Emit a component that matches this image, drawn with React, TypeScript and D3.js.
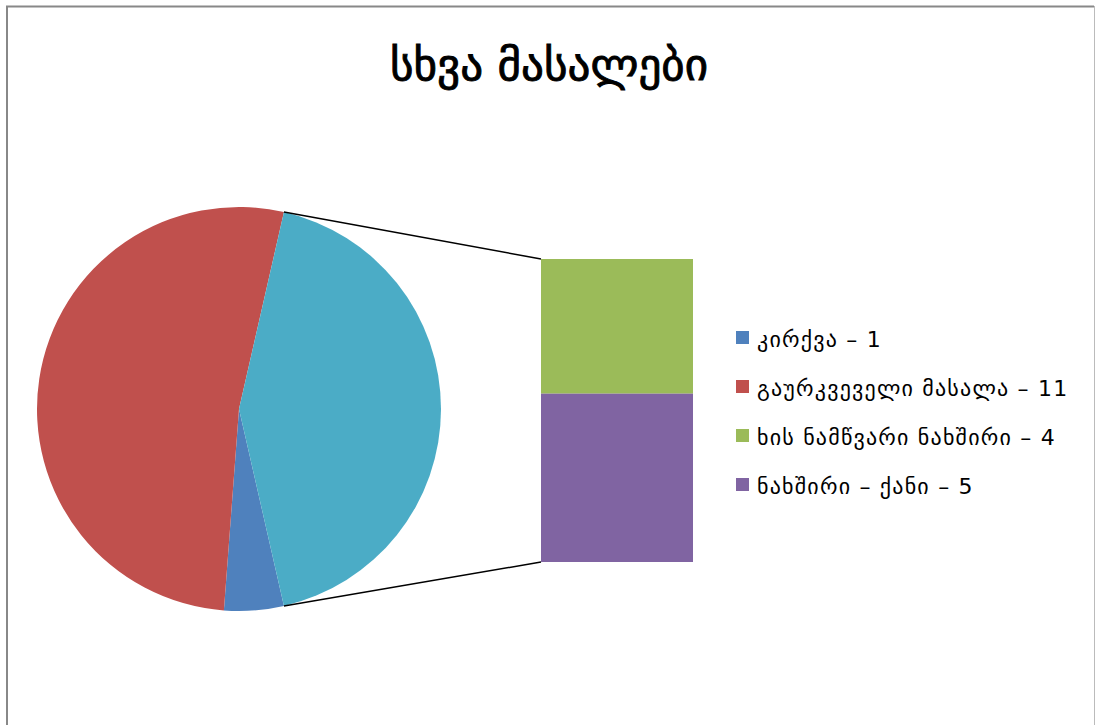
import React from "react";
import * as d3 from "d3";

const title = "სხვა მასალები";
const pieLabels = ["გაურკვეველი მასალა", "კირქვა", "სხვა"];
const pieValues = [11, 1, 9];
const pieColors = ["#C0504D", "#4F81BD", "#4BACC6"];

const barLabels = ["ხის ნამწვარი ნახშირი", "ნახშირი – ქანი"];
const barValues = [4, 5];
const barColors = ["#9BBB59", "#8064A2"];

const legendLabels = ["კირქვა – 1", "გაურკვეველი მასალა – 11", "ხის ნამწვარი ნახშირი – 4", "ნახშირი – ქანი – 5"];
const legendColors = ["#4F81BD", "#C0504D", "#9BBB59", "#8064A2"];

const W = 1095;
const H = 725;

export default function App() {
    const cx = 239;
    const cy = 409;
    const r = 202;

    // "other" slice centred on the right side
    const otherAngle = (pieValues[2] / d3.sum(pieValues)) * 2 * Math.PI;
    const start = Math.PI / 2 - otherAngle / 2;
    const pie = d3.pie<number>()
        .sort(null)
        .value(d => d)
        .startAngle(start + otherAngle)
        .endAngle(start + otherAngle + 2 * Math.PI);
    // blue -> red -> teal, clockwise from the end of the teal slice
    const order = [1, 0, 2];
    const arcsData = pie(order.map(i => pieValues[i]));
    const arc = d3.arc<d3.PieArcDatum<number>>().innerRadius(0).outerRadius(r);

    const bx = 541;
    const bw = 152;
    const yScale = d3.scaleLinear()
        .domain([0, d3.sum(barValues)])
        .range([259, 562]);
    let acc = 0;
    const bars = barValues.map((v, i) => {
        const y0 = yScale(acc);
        acc += v;
        return { y0, y1: yScale(acc), color: barColors[i], label: barLabels[i] };
    });

    const p1 = [cx + r * Math.sin(start), cy - r * Math.cos(start)];
    const p2 = [cx + r * Math.sin(start + otherAngle), cy - r * Math.cos(start + otherAngle)];

    return (
        <div style={{ position: "absolute", left: 0, top: 0 }}>
            <svg width={W} height={H} style={{ display: "block", fontFamily: "DejaVu Sans" }}>
                <rect x={0} y={0} width={W} height={H} fill="#fff" />
                <line x1={7} y1={6} x2={7} y2={H} stroke="#888" strokeWidth={2} />
                <line x1={6} y1={6.5} x2={1094} y2={6.5} stroke="#888" strokeWidth={2} />
                <line x1={1094.5} y1={6} x2={1094.5} y2={H} stroke="#bbb" strokeWidth={1} />
                <text x={549} y={80} textAnchor="middle" fontSize={43} fill="#000" stroke="#000" strokeWidth={0.9}
                    textLength={318} lengthAdjust="spacingAndGlyphs">{title}</text>
                <g transform={`translate(${cx},${cy})`}>
                    {arcsData.map((d, i) => (
                        <path key={i} d={arc(d) as string} fill={pieColors[order[i]]} />
                    ))}
                </g>
                {bars.map((b, i) => (
                    <rect key={i} x={bx} y={b.y0} width={bw} height={b.y1 - b.y0} fill={b.color} />
                ))}
                <line x1={p1[0]} y1={p1[1]} x2={bx} y2={yScale(0)} stroke="#000" strokeWidth={1.5} />
                <line x1={p2[0]} y1={p2[1]} x2={bx} y2={yScale(d3.sum(barValues))} stroke="#000" strokeWidth={1.5} />
                {legendLabels.map((l, i) => (
                    <g key={i} transform={`translate(736,${339 + i * 49})`}>
                        <rect x={0} y={-8} width={13} height={13} fill={legendColors[i]} />
                        <text x={21} y={8} fontSize={22} fill="#000" letterSpacing={1.2}>{l}</text>
                    </g>
                ))}
            </svg>
        </div>
    );
}
